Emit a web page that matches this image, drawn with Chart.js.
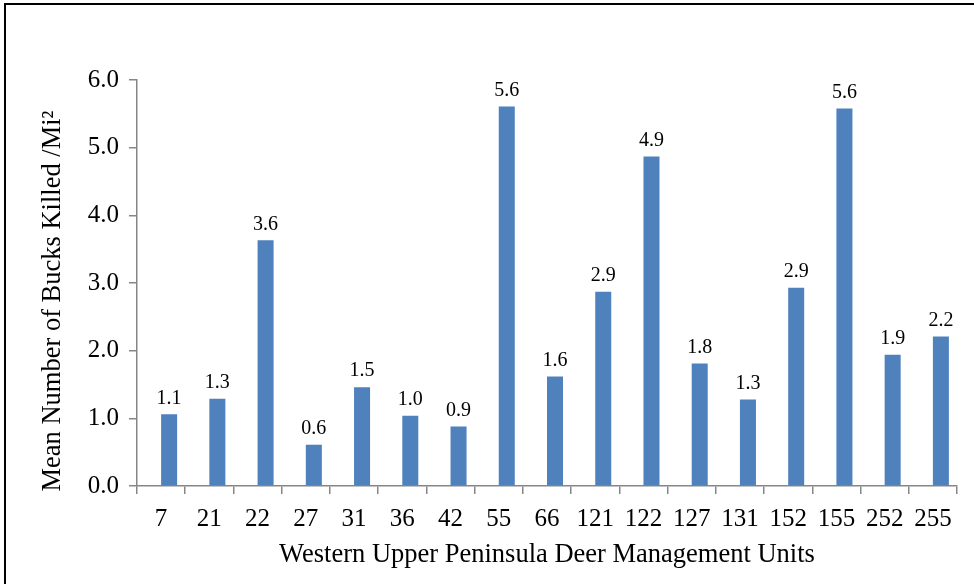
<!DOCTYPE html>
<html>
<head>
<meta charset="utf-8">
<script src="https://cdn.jsdelivr.net/npm/chart.js@4/dist/chart.umd.min.js"></script>
<style>
  html, body { margin: 0; padding: 0; background: #fff; }
  #wrap { position: relative; width: 974px; height: 584px; }
</style>
</head>
<body>
<div id="wrap"><canvas id="c" width="974" height="584"></canvas></div>
<script>
// Deer management units and mean bucks killed per square mile
const units = ['7', '21', '22', '27', '31', '36', '42', '55', '66', '121', '122', '127', '131', '152', '155', '252', '255'];
const bucksPerMi2 = [1.06, 1.29, 3.63, 0.61, 1.46, 1.04, 0.88, 5.61, 1.62, 2.87, 4.87, 1.81, 1.28, 2.93, 5.58, 1.94, 2.21];
// empty companion series: its slot sits left of each bar, so bars start at the category centre
const emptySeries = units.map(() => null);
const yTicks = [0, 1, 2, 3, 4, 5, 6];

const xTitle = 'Western Upper Peninsula Deer Management Units';
const yTitle = 'Mean Number of Bucks Killed /Mi\u00B2';

const serif = '"Liberation Serif", "Times New Roman", serif';
const axisGrey = '#868686';

// Frame lines along the top and left edge of the figure
const framePlugin = {
  id: 'frame',
  beforeDraw(chart) {
    const ctx = chart.ctx;
    ctx.save();
    ctx.fillStyle = '#fff';
    ctx.fillRect(0, 0, chart.width, chart.height);
    ctx.strokeStyle = '#000';
    ctx.lineWidth = 2;
    ctx.beginPath();
    ctx.moveTo(5, chart.height);
    ctx.lineTo(5, 4);
    ctx.lineTo(chart.width, 4);
    ctx.stroke();
    ctx.restore();
  }
};

// Value labels above each bar, and the rotated y-axis title
const labelPlugin = {
  id: 'valueLabels',
  afterDatasetsDraw(chart) {
    const ctx = chart.ctx;
    const meta = chart.getDatasetMeta(1);
    const data = chart.data.datasets[1].data;
    ctx.save();
    ctx.font = '20px ' + serif;
    ctx.fillStyle = '#000';
    ctx.textAlign = 'center';
    ctx.textBaseline = 'bottom';
    meta.data.forEach((bar, i) => {
      ctx.fillText(data[i].toFixed(1), bar.x, bar.y - 6);
    });
    ctx.restore();
  },
  afterDraw(chart) {
    const ctx = chart.ctx;
    ctx.save();
    ctx.translate(53, 301);
    ctx.rotate(-Math.PI / 2);
    ctx.font = '26.5px ' + serif;
    ctx.fillStyle = '#000';
    ctx.textAlign = 'center';
    ctx.textBaseline = 'middle';
    ctx.fillText(yTitle, 0, 0);
    ctx.restore();
  }
};

new Chart(document.getElementById('c'), {
  type: 'bar',
  data: {
    labels: units,
    datasets: [
      {
        data: emptySeries,
        backgroundColor: '#C0504D',
        barPercentage: 1.0,
        categoryPercentage: 0.664
      },
      {
        data: bucksPerMi2,
        backgroundColor: '#4F81BD',
        borderWidth: 0,
        barPercentage: 1.0,
        categoryPercentage: 0.664
      }
    ]
  },
  options: {
    responsive: false,
    animation: false,
    devicePixelRatio: 1,
    layout: { padding: { left: 0, right: 17, top: 80, bottom: 0 } },
    plugins: {
      legend: { display: false },
      tooltip: { enabled: false }
    },
    scales: {
      x: {
        afterFit(scale) { scale.height = 98; },
        grid: {
          offset: true,
          drawOnChartArea: false,
          drawTicks: true,
          tickLength: 8,
          color: axisGrey,
          lineWidth: 1.5
        },
        border: { color: axisGrey, width: 1.5 },
        ticks: {
          color: '#000',
          font: { family: serif, size: 25 },
          padding: 10,
          maxRotation: 0,
          autoSkip: false
        },
        title: {
          display: true,
          text: xTitle,
          color: '#000',
          font: { family: serif, size: 26.5 },
          padding: { top: 0, bottom: 13 }
        }
      },
      y: {
        min: 0,
        max: 6,
        afterFit(scale) { scale.width = 137; },
        afterBuildTicks(scale) { scale.ticks = yTicks.map(v => ({ value: v })); },
        grid: {
          drawOnChartArea: false,
          drawTicks: true,
          tickLength: 8,
          color: axisGrey,
          lineWidth: 1.5
        },
        border: { color: axisGrey, width: 1.5 },
        ticks: {
          color: '#000',
          font: { family: serif, size: 25 },
          padding: 10,
          callback: v => Number(v).toFixed(1)
        }
      }
    }
  },
  plugins: [framePlugin, labelPlugin]
});
</script>
</body>
</html>
